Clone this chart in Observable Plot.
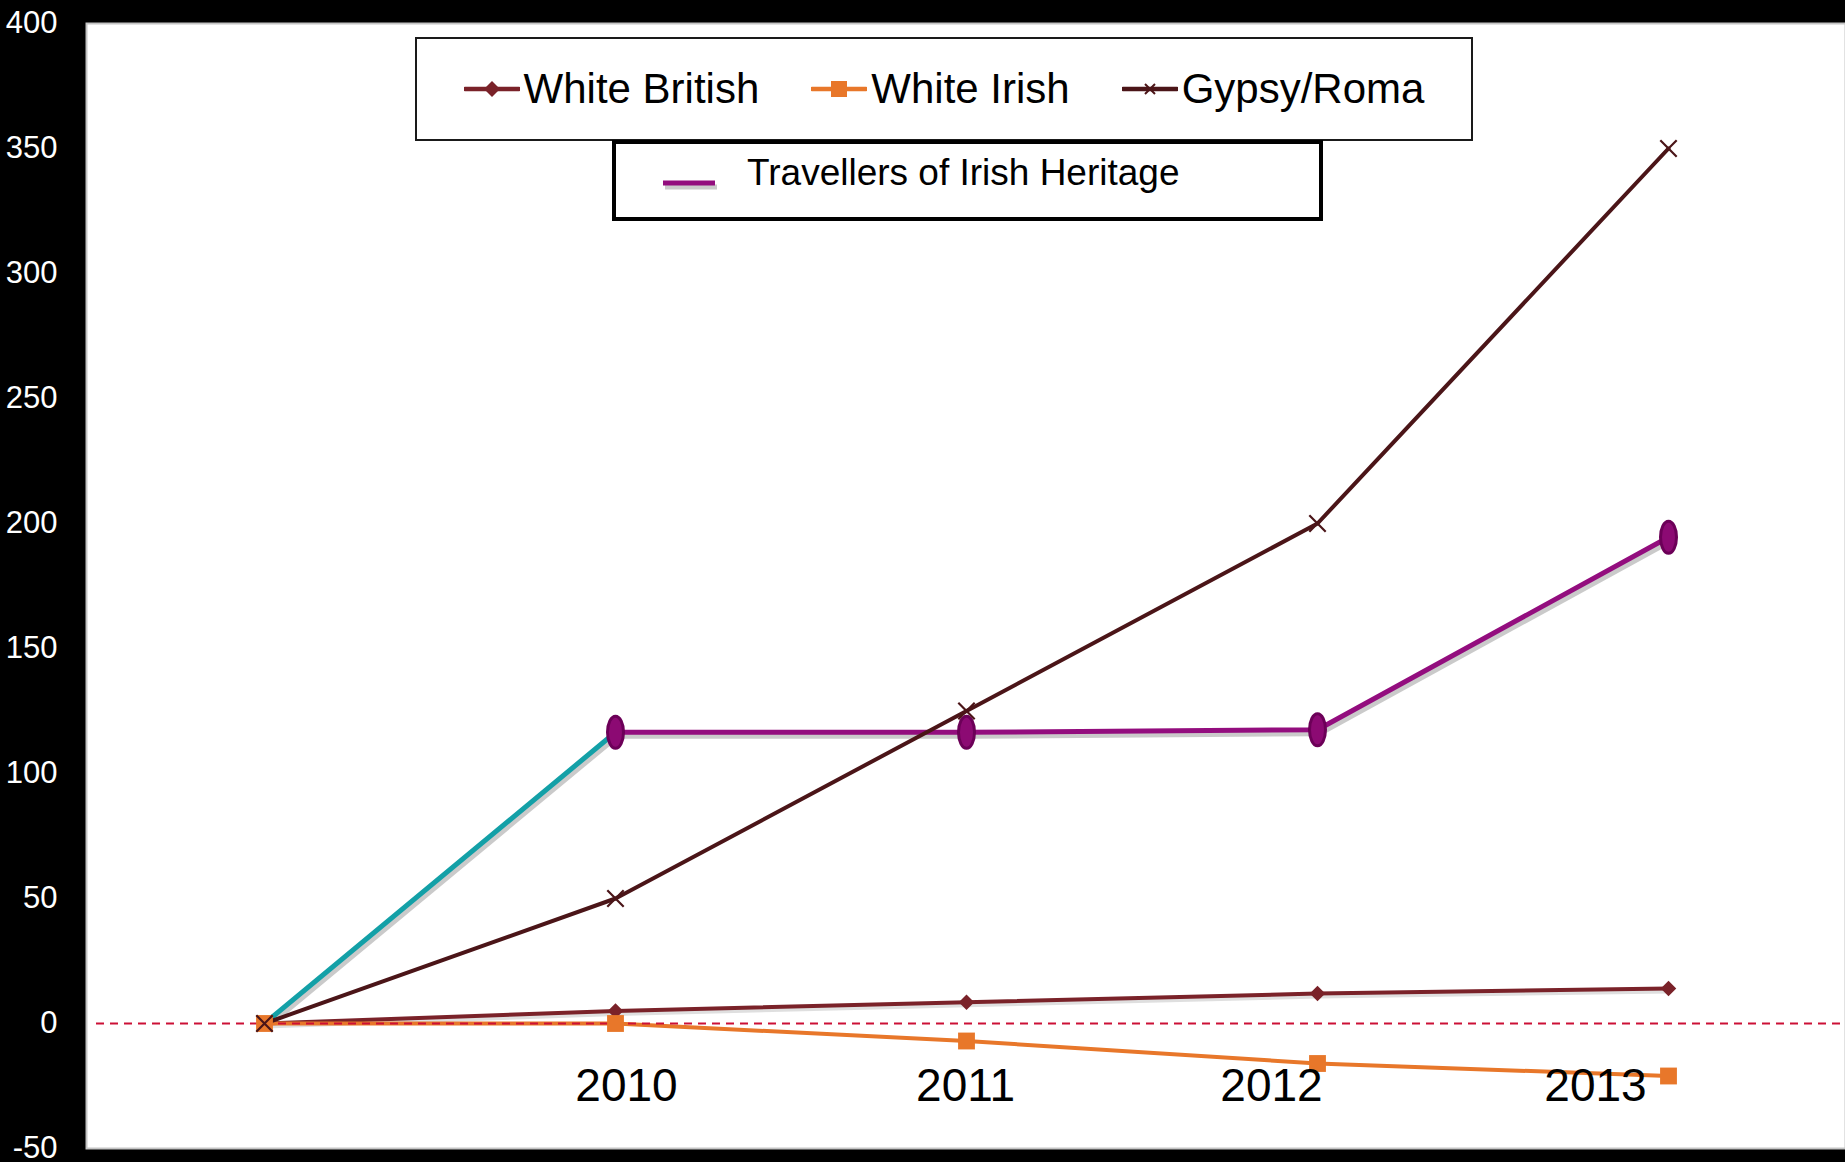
<!DOCTYPE html>
<html>
<head>
<meta charset="utf-8">
<script src="https://cdn.jsdelivr.net/npm/d3@7"></script>
<script src="https://cdn.jsdelivr.net/npm/@observablehq/plot@0.6"></script>
<style>
  html, body { margin: 0; padding: 0; background: #000; }
  #wrap { position: relative; width: 1845px; height: 1162px; overflow: hidden; background: #000; font-family: "Liberation Sans", Arial, sans-serif; }
  #chart svg { display: block; }
  .lbox { position: absolute; background: #fff; box-sizing: border-box; }
  #box1 { left: 415px; top: 37px; width: 1058px; height: 104px; border: 2px solid #1a1a1a; display: flex; align-items: center; justify-content: center; gap: 52px; }
  #box2 { left: 612px; top: 140px; width: 711px; height: 81px; border: 4px solid #000; }
  .item { display: flex; align-items: center; }
  .item svg { display: block; margin-right: 4px; }
  .item span { font-size: 42px; color: #000; line-height: 1; white-space: nowrap; }
  #box2 .sym { position: absolute; left: 45px; top: 29px; }
  #box2 span { position: absolute; left: 131px; top: 10px; font-size: 37px; line-height: 1; color: #000; white-space: nowrap; }
</style>
</head>
<body>
<div id="wrap">
  <div id="chart"></div>
  <div id="box1" class="lbox"></div>
  <div id="box2" class="lbox"></div>
</div>
<script>
// ---------- data ----------
const periods = ["Base", "2010", "2011", "2012", "2013"];
const xTickLabels = ["2010", "2011", "2012", "2013"];
const yTicks = [-50, 0, 50, 100, 150, 200, 250, 300, 350, 400];
const seriesNames = ["White British", "White Irish", "Gypsy/Roma", "Travellers of Irish Heritage"];
const whiteBritish = [0, 5, 8.5, 12, 14];
const whiteIrish = [0, 0, -7, -16, -21];
const gypsyRoma = [0, 50, 125, 200, 350];
const travellers = [0, 116.5, 116.5, 117.5, 194.5];

// ---------- styles ----------
const C = {
  wb: "#7A2229",
  wi: "#E8772A",
  gr: "#4B1518",
  tr: "#930D7E",
  trFill: "#8C0A73",
  trStroke: "#6C0058",
  teal: "#13A0A7",
  zero: "#CC1036",
  shadow: "#bdbdbd"
};
const labelNudge = {"2010": 11, "2011": -1, "2012": -46, "2013": -73};

const rows = vals => periods.map((p, i) => ({period: p, value: vals[i]}));
const wbRows = rows(whiteBritish);
const wiRows = rows(whiteIrish);
const grRows = rows(gypsyRoma);
const trRows = rows(travellers);
const tealRows = trRows.slice(0, 2);
const trMain = trRows.slice(1);

const ellipse = {
  draw(ctx, size) {
    const r = Math.sqrt(size / Math.PI);
    const rx = r, ry = 2 * r, k = 0.5523;
    ctx.moveTo(0, -ry);
    ctx.bezierCurveTo(k * rx, -ry, rx, -k * ry, rx, 0);
    ctx.bezierCurveTo(rx, k * ry, k * rx, ry, 0, ry);
    ctx.bezierCurveTo(-k * rx, ry, -rx, k * ry, -rx, 0);
    ctx.bezierCurveTo(-rx, -k * ry, -k * rx, -ry, 0, -ry);
    ctx.closePath();
  }
};

const xy = {x: "period", y: "value"};

const chart = Plot.plot({
  width: 1845,
  height: 1162,
  marginLeft: 86,
  marginTop: 23,
  marginRight: 0,
  marginBottom: 14,
  style: {background: "black", color: "white", fontFamily: "'Liberation Sans', Arial, sans-serif", overflow: "visible"},
  x: {type: "point", domain: periods, padding: 0.5, axis: null},
  y: {domain: [-50, 400], label: null, axis: null},
  marks: [
    Plot.frame({fill: "white", stroke: "#c4c4c4", strokeWidth: 2}),
    Plot.axisY(yTicks, {tickSize: 0, tickPadding: 29, fontSize: 31, fill: "white", tickFormat: d => String(d), label: null}),
    // shadows
    Plot.line(tealRows, {...xy, stroke: C.shadow, strokeWidth: 5, dx: 2, dy: 4, strokeOpacity: 0.8}),
    Plot.line(trMain, {...xy, stroke: C.shadow, strokeWidth: 5, dx: 2, dy: 4, strokeOpacity: 0.8}),
    Plot.line(wbRows, {...xy, stroke: "#d2d2d2", strokeWidth: 4, dx: 1, dy: 3, strokeOpacity: 0.7}),
    // travellers
    Plot.line(tealRows, {...xy, stroke: C.teal, strokeWidth: 5}),
    Plot.line(trMain, {...xy, stroke: C.tr, strokeWidth: 5}),
    Plot.dot(trMain, {...xy, symbol: ellipse, r: 8, fill: C.trFill, stroke: C.trStroke, strokeWidth: 3}),
    // other series lines
    Plot.line(wbRows, {...xy, stroke: C.wb, strokeWidth: 4}),
    Plot.line(wiRows, {...xy, stroke: C.wi, strokeWidth: 4}),
    Plot.ruleY([0], {stroke: C.zero, strokeWidth: 1.8, strokeDasharray: "8,6", insetLeft: 10}),
    Plot.line(grRows, {...xy, stroke: C.gr, strokeWidth: 4}),
    // markers
    Plot.dot(wbRows, {...xy, symbol: "diamond2", r: 7, fill: C.wb, stroke: "none"}),
    Plot.dot(wiRows, {...xy, symbol: "square", r: 9.5, fill: C.wi, stroke: "none"}),
    Plot.dot(grRows, {...xy, symbol: "times", r: 7.5, stroke: C.gr, strokeWidth: 2.2}),
    // category labels inside plot area
    ...xTickLabels.map(lab => Plot.text([lab], {
      x: d => d, frameAnchor: "bottom", lineAnchor: "middle", dy: -62, dx: labelNudge[lab],
      fontSize: 46, fill: "black", text: d => d
    }))
  ]
});
document.getElementById("chart").appendChild(chart);

// ---------- legend ----------
function symSVG(kind, color) {
  let marker = "";
  if (kind === "diamond") marker = `<path d="M28,4 L36,12 L28,20 L20,12 Z" fill="${color}"/>`;
  if (kind === "square") marker = `<rect x="20" y="4" width="16" height="16" fill="${color}"/>`;
  if (kind === "times") marker = `<path d="M23,7 L33,17 M33,7 L23,17" stroke="${color}" stroke-width="2"/>`;
  return `<svg width="56" height="24" viewBox="0 0 56 24"><line x1="1" y1="12" x2="55" y2="12" stroke="${color}" stroke-width="4.5" stroke-linecap="round"/>${marker}</svg>`;
}
const legendItems = [
  {name: seriesNames[0], kind: "diamond", color: C.wb},
  {name: seriesNames[1], kind: "square", color: C.wi},
  {name: seriesNames[2], kind: "times", color: C.gr}
];
document.getElementById("box1").innerHTML = legendItems.map(it =>
  `<div class="item">${symSVG(it.kind, it.color)}<span>${it.name}</span></div>`).join("");
document.getElementById("box2").innerHTML =
  `<svg class="sym" width="60" height="20" viewBox="0 0 60 20">
     <line x1="4" y1="14" x2="56" y2="14" stroke="${C.shadow}" stroke-width="5" opacity="0.8"/>
     <line x1="2" y1="10" x2="54" y2="10" stroke="${C.tr}" stroke-width="5"/>
   </svg><span>${seriesNames[3]}</span>`;
</script>
</body>
</html>
